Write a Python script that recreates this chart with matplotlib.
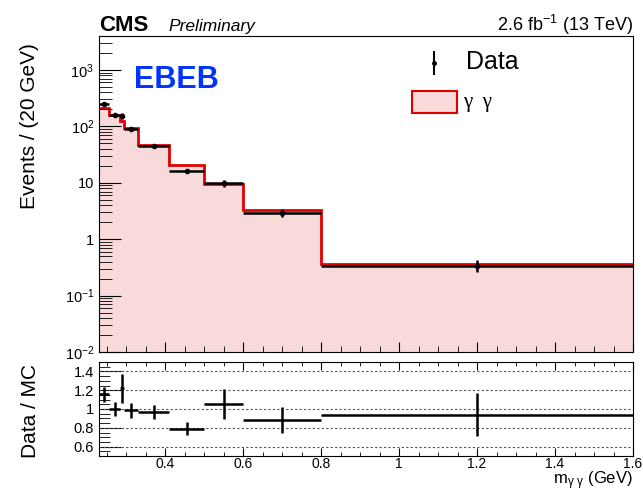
import numpy as np
import matplotlib.pyplot as plt
from matplotlib.ticker import MultipleLocator, LogLocator, NullFormatter

plt.rcParams['font.family'] = ['Liberation Sans', 'DejaVu Sans']
plt.rcParams['mathtext.fontset'] = 'custom'
plt.rcParams['mathtext.rm'] = 'Liberation Sans'
plt.rcParams['mathtext.default'] = 'regular'

# binning and contents
edges = np.array([0.23, 0.255, 0.285, 0.295, 0.33, 0.41, 0.5, 0.6, 0.8, 1.6])
mc = np.array([215, 159, 126, 92, 47, 20.7, 9.4, 3.3, 0.363])
data = np.array([249, 159, 154, 90.6, 45.6, 16.4, 9.9, 2.9, 0.34])
data_err = np.array([17, 11, 19.5, 7.4, 3.5, 1.45, 1.5, 0.46, 0.083])

centers = 0.5 * (edges[1:] + edges[:-1])
half = 0.5 * np.diff(edges)
ratio = data / mc
ratio_err = data_err / mc

fill_col = '#f8dadb'
line_col = '#e00000'

fig = plt.figure(figsize=(6.43, 4.93), dpi=100)
ax = fig.add_axes([99 / 643, 1 - 352 / 493, 534 / 643, 316 / 493])
rx = fig.add_axes([99 / 643, 1 - 456 / 493, 534 / 643, 94 / 493])

# top panel
ax.stairs(mc, edges, fill=True, color=fill_col, baseline=1e-3)
ax.stairs(mc, edges, color=line_col, lw=2, baseline=None)
ax.errorbar(centers, data, xerr=half, yerr=data_err, fmt='o', ms=3,
            color='k', lw=1.8, capsize=0)
ax.set_yscale('log')
ax.set_xlim(0.23, 1.6)
ax.set_ylim(0.01, 4000)
ax.set_yticks([1e-2, 1e-1, 1, 10, 1e2, 1e3])
ax.set_yticklabels(['$10^{-2}$', '$10^{-1}$', '1', '10', '$10^{2}$', '$10^{3}$'])
ax.yaxis.set_minor_locator(LogLocator(base=10, subs=np.arange(2, 10), numticks=20))
ax.yaxis.set_minor_formatter(NullFormatter())
ax.xaxis.set_major_locator(MultipleLocator(0.2))
ax.xaxis.set_minor_locator(MultipleLocator(0.05))
ax.tick_params(axis='x', which='both', direction='in', labelbottom=False)
ax.tick_params(axis='x', which='major', length=7)
ax.tick_params(axis='x', which='minor', length=4)
ax.tick_params(axis='y', which='major', direction='in', length=16, labelsize=10.5)
ax.tick_params(axis='y', which='minor', direction='in', length=9)

# legend drawn by hand
tr = ax.transAxes
ax.plot([0.627, 0.627], [0.880, 0.949], color='k', lw=1.5, transform=tr)
ax.plot([0.627], [0.915], 'o', ms=2.5, color='k', transform=tr)
ax.text(0.687, 0.918, 'Data', fontsize=18, va='center', ha='left', transform=tr)
ax.add_patch(plt.Rectangle((0.586, 0.756), 0.084, 0.070, transform=tr,
                           facecolor=fill_col, edgecolor=line_col, lw=1.5))
ax.text(0.682, 0.790, '\u03b3  \u03b3', fontsize=15, va='center', ha='left',
        family=['Liberation Serif', 'DejaVu Serif'], transform=tr)

fig.text(134 / 643, 1 - 88 / 493, 'EBEB', fontsize=22, fontweight='bold',
         color='#0033ff', ha='left', va='baseline')

fig.text(99 / 643, 1 - 31 / 493, 'CMS', fontsize=16, fontweight='bold',
         ha='left', va='baseline')
fig.text(168 / 643, 1 - 31 / 493, 'Preliminary', fontsize=12.5, style='italic',
         ha='left', va='baseline')
fig.text(633 / 643, 1 - 31 / 493, '2.6 fb$^{-1}$ (13 TeV)', fontsize=13,
         ha='right', va='baseline')

# ratio panel
for yv in [0.6, 0.8, 1.0, 1.2, 1.4]:
    rx.axhline(yv, color='#555555', lw=0.8, ls=(0, (2, 2)))
rx.errorbar(centers, ratio, xerr=half, yerr=ratio_err, fmt='none',
            color='k', lw=1.8, capsize=0)
rx.set_xlim(0.23, 1.6)
rx.set_ylim(0.5, 1.5)
rx.set_yticks([0.6, 0.8, 1.0, 1.2, 1.4])
rx.set_yticklabels(['0.6', '0.8', '1', '1.2', '1.4'])
rx.set_xticks([0.4, 0.6, 0.8, 1.0, 1.2, 1.4, 1.6])
rx.set_xticklabels(['0.4', '0.6', '0.8', '1', '1.2', '1.4', '1.6'])
rx.xaxis.set_minor_locator(MultipleLocator(0.05))
rx.yaxis.set_minor_locator(MultipleLocator(0.05))
rx.tick_params(axis='x', which='both', direction='in', top=True, labelsize=10, pad=1)
rx.tick_params(axis='x', which='major', length=6)
rx.tick_params(axis='x', which='minor', length=3)
rx.tick_params(axis='y', which='major', direction='in', length=16, labelsize=10.5)
rx.tick_params(axis='y', which='minor', direction='in', length=8)

fig.text(30 / 643, 1 - 43 / 493, 'Events / (20 GeV)', fontsize=15, rotation=90,
         ha='center', va='top')
fig.text(30 / 643, 1 - 411 / 493, 'Data / MC', fontsize=15, rotation=90,
         ha='center', va='center')
fig.text(633 / 643, 0.5 / 493, 'm$_{\\gamma\\ \\gamma}$ (GeV)', fontsize=12,
         ha='right', va='bottom')

fig.savefig('out.png', dpi=100)
